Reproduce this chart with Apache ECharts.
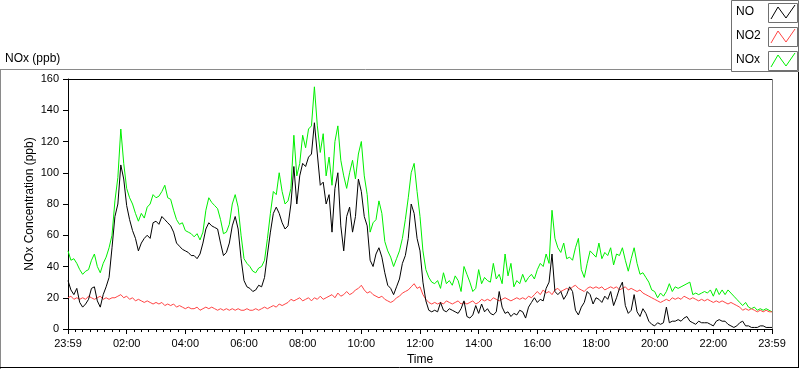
<!DOCTYPE html>
<html>
<head>
<meta charset="utf-8">
<script src="https://cdn.jsdelivr.net/npm/echarts@6/dist/echarts.min.js"></script>
<style>
html,body{margin:0;padding:0;background:#fff;overflow:hidden;}
#chart{width:800px;height:369px;}
</style>
</head>
<body>
<div id="chart"></div>
<script>
// Sampling step of the readings (minutes from 23:59 start)
const STEP_MIN = 6;
const xTickLabels = ['23:59','02:00','04:00','06:00','08:00','10:00','12:00','14:00','16:00','18:00','20:00','22:00','23:59'];
const seriesNames = ['NO', 'NO2', 'NOx'];

const noValues = [
 31,25,22,26,17,14,16,19,26,27, 18,14,22,27,33,52,72,80,105,96, 79,70,63,58,50,55,58,60,58,68,
 69,67,72,70,68,66,62,55,53,51, 50,49,47,47,45,48,55,64,68,66, 65,64,55,47,49,55,66,72,64,45,
 31,27,26,24,25,28,27,33,48,62, 74,78,74,68,64,66,80,104,80,98, 106,104,110,112,132,112,92,94,80,86,
 62,90,100,66,50,72,78,62,72,96, 88,72,66,44,40,48,52,46,36,28, 26,22,27,32,42,47,58,80,74,58,
 50,30,18,12,11,12,11,17,12,11, 13,12,11,10,13,18,8,7,9,15, 10,16,11,13,10,9,11,24,14,10,
 11,8,10,9,12,11,7,14,17,20, 17,19,18,26,30,48,24,22,24,19, 22,27,24,12,9,14,17,24,22,16,
 20,19,17,21,19,24,15,20,26,30, 15,10,12,22,11,8,13,10,5,3, 2,4,3,4,14,4,5,5,6,5,
 7,8,5,4,3,5,4,4,4,3, 2,5,6,5,5,3,2,1,2,4, 5,2,2,1,1,1,2,2,1,1, 1
];
const no2Values = [
 20,21,19,20,19,20,19,21,20,19, 20,21,19,20,19,20,20,21,22,20, 21,19,20,18,19,18,17,18,17,16,
 17,16,17,15,16,15,16,14,15,14, 13,14,13,13,14,12,13,14,13,14, 13,12,13,12,13,12,13,12,13,12,
 12,13,12,12,13,12,13,14,13,14, 15,14,16,15,16,17,19,18,19,20, 18,19,20,18,20,19,21,19,20,21,
 22,20,23,21,22,24,22,23,25,26, 28,25,23,24,22,21,20,21,19,18, 17,18,20,21,23,24,25,27,29,26,
 27,22,19,17,16,17,16,17,16,18, 17,16,17,18,16,17,16,17,18,16, 17,19,18,19,18,20,19,18,19,20,
 19,18,19,20,19,20,19,21,20,22, 24,22,25,23,24,22,25,26,24,25, 26,25,27,28,26,25,24,26,27,26,
 27,26,27,25,26,27,26,27,25,26, 27,25,26,25,24,25,23,22,21,20, 19,18,17,18,19,18,20,19,20,19,
 21,20,19,20,19,18,19,18,19,18, 17,18,17,18,17,16,17,16,15,14, 12,13,12,13,12,11,12,11,12,11, 11
];
const noxValues = [
 50,44,45,42,38,35,37,38,44,48, 40,36,42,46,52,60,82,97,128,106, 90,84,80,74,69,74,71,78,80,86,
 84,85,88,92,84,83,76,70,67,68, 63,62,61,59,61,57,62,76,84,81, 79,77,70,61,62,67,80,86,78,60,
 45,42,40,37,36,39,40,44,58,74, 88,86,100,88,80,82,90,124,98,106, 124,116,128,130,155,130,113,125,98,110,
 92,120,130,108,98,90,100,108,96,112, 120,98,86,62,68,70,82,74,56,50, 46,40,45,50,58,70,84,100,106,88,
 72,50,38,33,30,29,31,26,36,29, 31,28,34,31,24,40,35,30,24,26, 38,29,33,31,30,42,32,35,29,48,
 34,42,27,31,29,35,30,33,35,32, 38,42,40,48,42,76,58,52,49,55, 45,46,44,52,58,38,33,42,50,48,
 46,55,45,49,47,52,41,48,47,52, 44,37,45,52,42,35,36,33,30,25, 24,20,23,21,24,29,24,27,26,27,
 28,29,30,22,23,22,23,24,23,25, 21,26,22,25,22,25,23,21,19,17, 15,17,14,13,14,12,13,12,13,12, 11
];

const colors = {NO: '#000000', NO2: '#ff4444', NOx: '#00f000'};
const FONT = 'Liberation Sans';

function pairs(vals){ return vals.map((v,i)=>[i*STEP_MIN, v]); }

const chart = echarts.init(document.getElementById('chart'), null, {renderer:'canvas', width: 800, height: 369});

const legendItems = [];
seriesNames.forEach((n, i) => {
  const y0 = 3 + i * 24;
  legendItems.push({type:'text', left: 736, top: y0 + 3, style:{text:n, font:'12px ' + FONT, fill:'#000'}});
  legendItems.push({type:'rect', shape:{x:768.5, y:y0 + 0.5, width:29, height:19}, style:{fill:'#fff', stroke:'#707070', lineWidth:1}});
  legendItems.push({type:'polyline', shape:{points:[[771, y0+16],[778, y0+4],[786, y0+15],[795, y0+2]]}, style:{fill:null, stroke: colors[n], lineWidth:1}});
});

const option = {
  animation: false,
  backgroundColor: '#fff',
  textStyle: {fontFamily: FONT},
  grid: {left: 68, top: 79, width: 704, height: 250, show: false, containLabel: false, outerBoundsMode: 'none'},
  xAxis: {
    type: 'value', min: 0, max: 1440, interval: 120,
    name: 'Time', nameLocation: 'middle', nameGap: 25, nameMoveOverlap: false,
    nameTextStyle: {color: '#000', fontSize: 12, fontFamily: FONT},
    axisLine: {show: true, onZero: false, lineStyle: {color: '#000', width: 1}},
    axisTick: {show: true, length: 5, lineStyle: {color: '#000'}},
    minorTick: {show: true, splitNumber: 8, length: 3, lineStyle: {color: '#000'}},
    axisLabel: {color: '#000', fontSize: 11, fontFamily: FONT, margin: 9,
      showMinLabel: true, showMaxLabel: true,
      formatter: v => xTickLabels[Math.round(v / 120)] || ''},
    splitLine: {show: false}
  },
  yAxis: {
    type: 'value', min: 0, max: 160, interval: 20,
    name: 'NOx Concentration (ppb)', nameLocation: 'middle', nameGap: 32, nameRotate: 90, nameMoveOverlap: false,
    nameTextStyle: {color: '#000', fontSize: 12, fontFamily: FONT},
    axisLine: {show: true, lineStyle: {color: '#000', width: 1}},
    axisTick: {show: true, length: 5, lineStyle: {color: '#000'}},
    axisLabel: {color: '#000', fontSize: 11, fontFamily: FONT, margin: 9},
    splitLine: {show: false}
  },
  series: [
    {name: 'NOx', type: 'line', data: pairs(noxValues), showSymbol: false, symbol: 'none', lineStyle: {color: colors.NOx, width: 1}, z: 2},
    {name: 'NO2', type: 'line', data: pairs(no2Values), showSymbol: false, symbol: 'none', lineStyle: {color: colors.NO2, width: 1}, z: 3},
    {name: 'NO', type: 'line', data: pairs(noValues), showSymbol: false, symbol: 'none', lineStyle: {color: colors.NO, width: 1}, z: 4}
  ],
  graphic: [
    {type:'line', shape:{x1:0, y1:69.5, x2:731, y2:69.5}, style:{stroke:'#8a8a8a', lineWidth:1}},
    {type:'line', shape:{x1:0.5, y1:69, x2:0.5, y2:369}, style:{stroke:'#8a8a8a', lineWidth:1}},
    {type:'line', shape:{x1:798.5, y1:72, x2:798.5, y2:368}, style:{stroke:'#000', lineWidth:1}},
    {type:'line', shape:{x1:0, y1:367.5, x2:799, y2:367.5}, style:{stroke:'#000', lineWidth:1}},
    {type:'line', shape:{x1:68, y1:79.5, x2:772, y2:79.5}, style:{stroke:'#000', lineWidth:1}},
    {type:'line', shape:{x1:772.5, y1:79, x2:772.5, y2:330}, style:{stroke:'#808080', lineWidth:1}},
    {type:'text', left: 5, top: 53, style:{text:'NOx (ppb)', font:'12px ' + FONT, fill:'#000'}},
    {type:'rect', shape:{x:731.5, y:0.5, width:67, height:71}, style:{fill:'#fff', stroke:'#707070', lineWidth:1}},
    ...legendItems
  ]
};
chart.setOption(option);
</script>
</body>
</html>
